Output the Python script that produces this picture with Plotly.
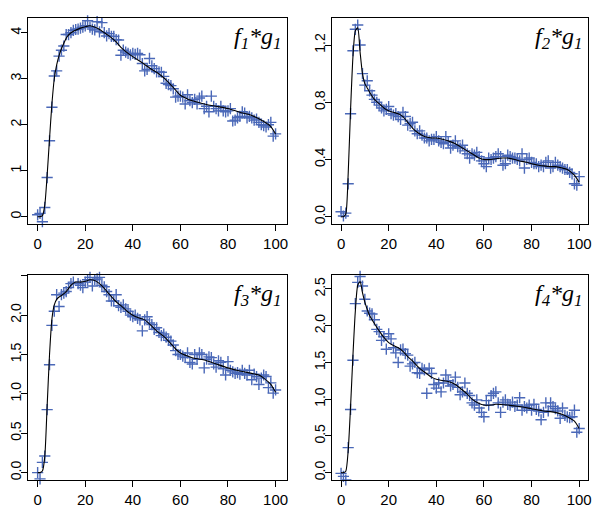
import plotly.graph_objects as go

x_pts = list(range(0, 101))

f1_pts = [0.04, 0.07, -0.11, 0.2, 0.85, 1.65, 2.38, 3.06, 3.17, 3.49, 3.62, 3.71, 3.96, 3.96, 4.0,
          4.05, 4.07, 4.08, 4.1, 4.12, 4.15, 4.26, 4.12, 4.08, 4.06, 4.24, 4.02, 4.22, 4.0, 3.93,
          3.98, 3.92, 3.92, 3.85, 3.84, 3.51, 3.62, 3.58, 3.55, 3.52, 3.55, 3.53, 3.55, 3.52, 3.33,
          3.17, 3.2, 3.44, 3.28, 3.22, 3.15, 3.15, 3.14, 3.05, 2.9, 2.87, 2.85, 2.78, 2.6, 2.62,
          2.62, 2.6, 2.45, 2.65, 2.52, 2.48, 2.55, 2.45, 2.58, 2.62, 2.35, 2.4, 2.28, 2.62, 2.4,
          2.35, 2.3, 2.4, 2.3, 2.28, 2.3, 2.35, 2.08, 2.1, 2.15, 2.18, 2.28, 2.25, 2.15, 2.18,
          2.15, 2.1, 2.12, 2.05, 2.0, 1.98, 1.95, 2.0, 2.05, 1.75, 1.8]
f1_lx = [0, 1, 2, 3, 4, 5, 6, 7, 8, 9, 10, 11, 12, 13, 15, 18, 20, 22, 25, 28, 30, 33, 35, 38, 40, 43,
         45, 48, 50, 53, 55, 58, 60, 63, 65, 70, 75, 80, 85, 90, 95, 98, 100]
f1_ly = [0, 0, 0.02, 0.25, 0.9, 1.7, 2.45, 3.0, 3.3, 3.5, 3.65, 3.77, 3.88, 3.95, 4.03, 4.1, 4.13,
         4.15, 4.1, 4.0, 3.93, 3.8, 3.68, 3.55, 3.48, 3.38, 3.31, 3.2, 3.14, 3.02, 2.92, 2.75, 2.64,
         2.56, 2.52, 2.45, 2.4, 2.35, 2.27, 2.2, 2.07, 1.96, 1.8]

f2_pts = [0.035, 0.005, 0.025, 0.23, 0.72, 1.16, 1.31, 1.34, 1.2, 1.0, 0.92, 0.95, 0.88, 0.85, 0.82,
          0.8, 0.78, 0.76, 0.74, 0.75, 0.77, 0.72, 0.71, 0.72, 0.7, 0.68, 0.73, 0.7, 0.64, 0.65,
          0.66, 0.6, 0.58, 0.6, 0.57, 0.55, 0.55, 0.53, 0.54, 0.54, 0.56, 0.53, 0.52, 0.51, 0.56,
          0.52, 0.48, 0.5, 0.53, 0.49, 0.48, 0.5, 0.46, 0.44, 0.41, 0.44, 0.43, 0.45, 0.42, 0.39,
          0.37, 0.35, 0.41, 0.4, 0.41, 0.42, 0.44, 0.42, 0.36, 0.37, 0.43, 0.42, 0.41, 0.41, 0.4,
          0.39, 0.44, 0.34, 0.4, 0.41, 0.38, 0.37, 0.37, 0.35, 0.36, 0.35, 0.38, 0.39, 0.34, 0.35,
          0.38, 0.36, 0.35, 0.34, 0.33, 0.33, 0.31, 0.3, 0.23, 0.22, 0.28]
f2_lx = [0, 1, 2, 3, 4, 5, 6, 7, 8, 9, 10, 11, 12, 14, 16, 18, 20, 22, 24, 26, 28, 30, 32, 35, 38, 40,
         43, 45, 48, 50, 53, 55, 58, 60, 63, 65, 68, 70, 73, 75, 78, 80, 83, 85, 88, 90, 93, 95, 98, 100]
f2_ly = [0, 0, 0.02, 0.3, 0.75, 1.12, 1.3, 1.32, 1.15, 1.0, 0.93, 0.9, 0.87, 0.82, 0.79, 0.76, 0.74,
         0.73, 0.72, 0.7, 0.66, 0.62, 0.59, 0.56, 0.55, 0.55, 0.54, 0.53, 0.51, 0.49, 0.46, 0.44, 0.41,
         0.4, 0.4, 0.405, 0.41, 0.41, 0.4, 0.39, 0.38, 0.37, 0.36, 0.355, 0.35, 0.35, 0.34, 0.33,
         0.29, 0.24]

f3_pts = [0.0, -0.08, 0.13, 0.21, 0.8, 1.37, 1.87, 2.05, 2.26, 2.11, 2.26, 2.28, 2.3, 2.35, 2.4,
          2.42, 2.53, 2.4, 2.38, 2.35, 2.42, 2.45, 2.48, 2.37, 2.45, 2.46, 2.48, 2.38, 2.36, 2.3,
          2.26, 2.18, 2.18, 2.26, 2.12, 2.1, 2.13, 2.08, 2.05, 2.0, 1.98, 2.0, 1.96, 1.94, 1.8,
          1.94, 1.98, 1.9, 1.88, 1.82, 1.84, 1.78, 1.74, 1.76, 1.72, 1.68, 1.67, 1.62, 1.55, 1.5,
          1.5, 1.48, 1.46, 1.52, 1.4, 1.38, 1.5, 1.44, 1.52, 1.5, 1.33, 1.44, 1.47, 1.46, 1.38,
          1.34, 1.42, 1.4, 1.32, 1.24, 1.41, 1.3, 1.28, 1.26, 1.27, 1.25, 1.3, 1.26, 1.24, 1.3,
          1.18, 1.25, 1.22, 1.12, 1.2, 1.24, 1.22, 1.08, 1.14, 1.01, 1.05]
f3_lx = [0, 1, 2, 3, 4, 5, 6, 7, 8, 9, 10, 12, 14, 16, 18, 20, 22, 24, 26, 28, 30, 33, 35, 38, 40, 43,
         45, 48, 50, 53, 55, 58, 60, 63, 65, 70, 75, 80, 85, 90, 93, 95, 98, 100]
f3_ly = [0, 0, 0.02, 0.2, 0.85, 1.5, 1.95, 2.13, 2.2, 2.23, 2.25, 2.3, 2.38, 2.42, 2.42, 2.43, 2.45,
         2.44, 2.4, 2.34, 2.27, 2.17, 2.12, 2.04, 2.0, 1.96, 1.94, 1.86, 1.8, 1.73, 1.67, 1.57, 1.52,
         1.48, 1.46, 1.43, 1.38, 1.33, 1.29, 1.26, 1.24, 1.2, 1.12, 1.02]

f4_pts = [-0.01, -0.05, -0.1, 0.34, 0.86, 1.53, 2.3, 2.59, 2.67, 2.54, 2.36, 2.2, 2.17, 2.16, 2.08,
          1.95, 1.92, 1.8, 1.85, 1.68, 1.89, 1.82, 1.7, 1.63, 1.5, 1.67, 1.68, 1.62, 1.6, 1.45,
          1.48, 1.5, 1.36, 1.35, 1.42, 1.4, 1.08, 1.42, 1.35, 1.2, 1.15, 1.22, 1.1, 1.22, 1.33,
          1.25, 1.18, 1.2, 1.3, 1.16, 1.06, 1.1, 1.22, 1.08, 1.05, 0.95, 0.92, 0.99, 0.88, 0.82,
          0.76, 0.98, 0.92, 1.05, 1.08, 1.1, 0.95, 0.82, 0.96, 0.99, 0.93, 0.92, 0.96, 0.9, 0.92,
          1.02, 0.85, 0.9, 0.88, 0.92, 0.85, 0.93, 0.86, 0.84, 0.72, 0.82, 0.95, 0.84, 0.95, 0.9,
          0.87, 0.84, 0.74, 0.88, 0.78, 0.76, 0.75, 0.76, 0.85, 0.55, 0.6]
f4_lx = [0, 1, 2, 3, 4, 5, 6, 7, 8, 9, 10, 11, 12, 14, 16, 18, 20, 22, 24, 26, 28, 30, 33, 35, 38, 40,
         43, 45, 48, 50, 53, 55, 58, 60, 63, 65, 70, 75, 80, 85, 88, 90, 93, 95, 98, 100]
f4_ly = [0, 0, 0.02, 0.3, 0.9, 1.6, 2.2, 2.55, 2.6, 2.45, 2.32, 2.22, 2.14, 2.03, 1.93, 1.84, 1.77,
         1.73, 1.7, 1.65, 1.58, 1.52, 1.42, 1.37, 1.3, 1.27, 1.25, 1.24, 1.2, 1.15, 1.07, 1.0, 0.94,
         0.92, 0.92, 0.93, 0.92, 0.9, 0.87, 0.84, 0.83, 0.82, 0.79, 0.76, 0.7, 0.6]

x_ticks = [0, 20, 40, 60, 80, 100]
y_ticks = [
    [0, 1, 2, 3, 4],
    [0, 0.4, 0.8, 1.2],
    [0, 0.5, 1.0, 1.5, 2.0, 2.5],
    [0, 0.5, 1.0, 1.5, 2.0, 2.5],
]
y_ticktext = [
    ["0", "1", "2", "3", "4"],
    ["0.0", "0.4", "0.8", "1.2"],
    ["0.0", "0.5", "1.0", "1.5", "2.0", ""],
    ["0.0", "0.5", "1.0", "1.5", "2.0", "2.5"],
]
titles = [f"<i>f<sub>{k}</sub>*g<sub>1</sub></i>" for k in (1, 2, 3, 4)]

pts = [f1_pts, f2_pts, f3_pts, f4_pts]
lines = [(f1_lx, f1_ly), (f2_lx, f2_ly), (f3_lx, f3_ly), (f4_lx, f4_ly)]
y_ranges = [[-0.16, 4.32], [-0.051, 1.389], [-0.094, 2.51], [-0.1, 2.69]]
x_ranges = [[-4.05, 104.8], [-3.8, 103.7], [-4.05, 104.8], [-3.8, 103.7]]

# page body has an 8px margin, so the figure is offset by 8px
OFF = 8
W, H = 594, 505
x_doms = [[(28 - OFF) / W, (287 - OFF) / W], [(332 - OFF) / W, (588 - OFF) / W]]
y_doms = [[1 - (224 - OFF) / H, 1 - (18 - OFF) / H], [1 - (480 - OFF) / H, 1 - (275 - OFF) / H]]

fig = go.Figure()
font_ax = dict(family="Liberation Sans", size=14, color="black")
for i in range(4):
    xa = "x" if i == 0 else f"x{i+1}"
    ya = "y" if i == 0 else f"y{i+1}"
    fig.add_trace(go.Scatter(x=x_pts, y=pts[i], mode="markers", xaxis=xa, yaxis=ya,
                             marker=dict(symbol="cross-thin", size=8,
                                         line=dict(color="#4a68b8", width=1.4)),
                             showlegend=False, cliponaxis=False))
    fig.add_trace(go.Scatter(x=lines[i][0], y=lines[i][1], mode="lines", xaxis=xa, yaxis=ya,
                             line=dict(color="black", width=1.1, shape="spline", smoothing=0.6),
                             showlegend=False))
    r, c = divmod(i, 2)
    sfx = "" if i == 0 else str(i + 1)
    fig.update_layout(**{
        f"xaxis{sfx}": dict(domain=x_doms[c], range=x_ranges[i], tickvals=x_ticks,
                            showgrid=False, zeroline=False, showline=True, mirror=True,
                            linecolor="black", linewidth=1, ticks="outside", ticklen=6,
                            tickcolor="black", tickfont=dict(font_ax, size=15), anchor=ya,
                            automargin=False),
        f"yaxis{sfx}": dict(domain=y_doms[r], range=y_ranges[i], tickvals=y_ticks[i],
                            ticktext=y_ticktext[i], tickangle=-90, ticklabelstandoff=-6,
                            showgrid=False, zeroline=False, showline=True, mirror=True,
                            linecolor="black", linewidth=1, ticks="outside", ticklen=6,
                            tickcolor="black", tickfont=font_ax, anchor=xa, automargin=False),
    })
    fig.add_annotation(text=titles[i], xref=f"{xa} domain", yref=f"{ya} domain",
                       x=0.985, y=0.985, xanchor="right", yanchor="top", showarrow=False,
                       font=dict(family="Liberation Serif", size=24, color="black"))

fig.update_layout(width=W, height=H, margin=dict(l=0, r=0, t=0, b=0, autoexpand=False),
                  paper_bgcolor="white", plot_bgcolor="white")
fig.write_html("out.html")
